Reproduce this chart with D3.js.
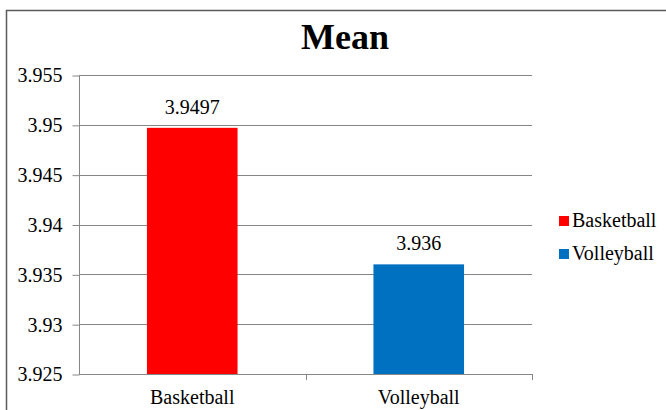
<!DOCTYPE html>
<html>
<head>
<meta charset="utf-8">
<script src="https://cdn.jsdelivr.net/npm/d3@7"></script>
</head>
<body style="margin:0;background:#fff">
<script>
// Chart data
const title = "Mean";
const categories = ["Basketball", "Volleyball"];
const values = [3.9497, 3.936];
const valueLabels = ["3.9497", "3.936"];
const colors = ["#FF0000", "#0070C0"];
const yTicks = [3.925, 3.93, 3.935, 3.94, 3.945, 3.95, 3.955];
const yTickLabels = ["3.925", "3.93", "3.935", "3.94", "3.945", "3.95", "3.955"];

const FONT = "Liberation Serif";
const W = 666, H = 410;
const plot = { left: 79, right: 532, top: 75, bottom: 374 };

const svg = d3.select("body").append("svg")
  .attr("width", W).attr("height", H)
  .style("display", "block");

// Chart frame
svg.append("rect")
  .attr("x", 6.5).attr("y", 10.5)
  .attr("width", W + 10).attr("height", H + 10)
  .attr("fill", "#fff").attr("stroke", "#5a5a5a").attr("stroke-width", 1.5);

const x = d3.scaleBand().domain(categories)
  .range([plot.left, plot.right]).paddingInner(0.6).paddingOuter(0.3);
const xOuter = d3.scaleBand().domain(categories)
  .range([plot.left, plot.right]);
const y = d3.scaleLinear().domain([3.925, 3.955]).range([plot.bottom, plot.top]);

// Horizontal gridlines
svg.append("g").selectAll("line").data(yTicks.slice(1)).join("line")
  .attr("x1", plot.left).attr("x2", plot.right)
  .attr("y1", d => Math.round(y(d)) + 0.5).attr("y2", d => Math.round(y(d)) + 0.5)
  .attr("stroke", "#868686").attr("stroke-width", 1);

// Y axis
const yAxis = d3.axisLeft(y).tickValues(yTicks)
  .tickFormat((d, i) => yTickLabels[i]).tickSize(7).tickPadding(10);
const gy = svg.append("g").attr("transform", `translate(${plot.left + 0.5},0.5)`).call(yAxis);
gy.attr("font-family", null).attr("font-size", null);
gy.select(".domain").attr("stroke", "#868686").attr("d", `M0,${plot.top}V${plot.bottom}`);
gy.selectAll(".tick line").attr("stroke", "#868686");
gy.selectAll(".tick text")
  .style("font-family", FONT).style("font-size", "20px").attr("fill", "#000");

// Bars
svg.append("g").selectAll("rect").data(categories).join("rect")
  .attr("x", d => x(d)).attr("width", x.bandwidth())
  .attr("y", (d, i) => y(values[i]))
  .attr("height", (d, i) => plot.bottom - y(values[i]))
  .attr("fill", (d, i) => colors[i]);

// X axis with ticks between categories
const gx = svg.append("g");
gx.append("line")
  .attr("x1", plot.left).attr("x2", plot.right)
  .attr("y1", plot.bottom + 0.5).attr("y2", plot.bottom + 0.5)
  .attr("stroke", "#868686");
const boundaries = categories.map(c => xOuter(c) + xOuter.bandwidth());
gx.selectAll("line.tk").data(boundaries).join("line").attr("class", "tk")
  .attr("x1", d => Math.round(d) + 0.5).attr("x2", d => Math.round(d) + 0.5)
  .attr("y1", plot.bottom).attr("y2", plot.bottom + 6)
  .attr("stroke", "#868686");
gx.selectAll("text").data(categories).join("text")
  .attr("x", d => xOuter(d) + xOuter.bandwidth() / 2)
  .attr("y", 404)
  .attr("text-anchor", "middle")
  .style("font-family", FONT).style("font-size", "20px")
  .text(d => d);

// Value labels
svg.append("g").selectAll("text").data(categories).join("text")
  .attr("x", d => x(d) + x.bandwidth() / 2)
  .attr("y", (d, i) => y(values[i]) - 14)
  .attr("text-anchor", "middle")
  .style("font-family", FONT).style("font-size", "20px")
  .text((d, i) => valueLabels[i]);

// Title
svg.append("text")
  .attr("x", 345).attr("y", 49)
  .attr("text-anchor", "middle")
  .style("font-family", FONT).style("font-size", "36px").style("font-weight", "bold")
  .text(title);

// Legend
const legend = svg.append("g").selectAll("g").data(categories).join("g")
  .attr("transform", (d, i) => `translate(559,${216 + i * 33})`);
legend.append("rect")
  .attr("width", 10).attr("height", 10)
  .attr("fill", (d, i) => colors[i]);
legend.append("text")
  .attr("x", 13).attr("y", 11)
  .style("font-family", FONT).style("font-size", "20px")
  .text(d => d);
</script>
</body>
</html>
